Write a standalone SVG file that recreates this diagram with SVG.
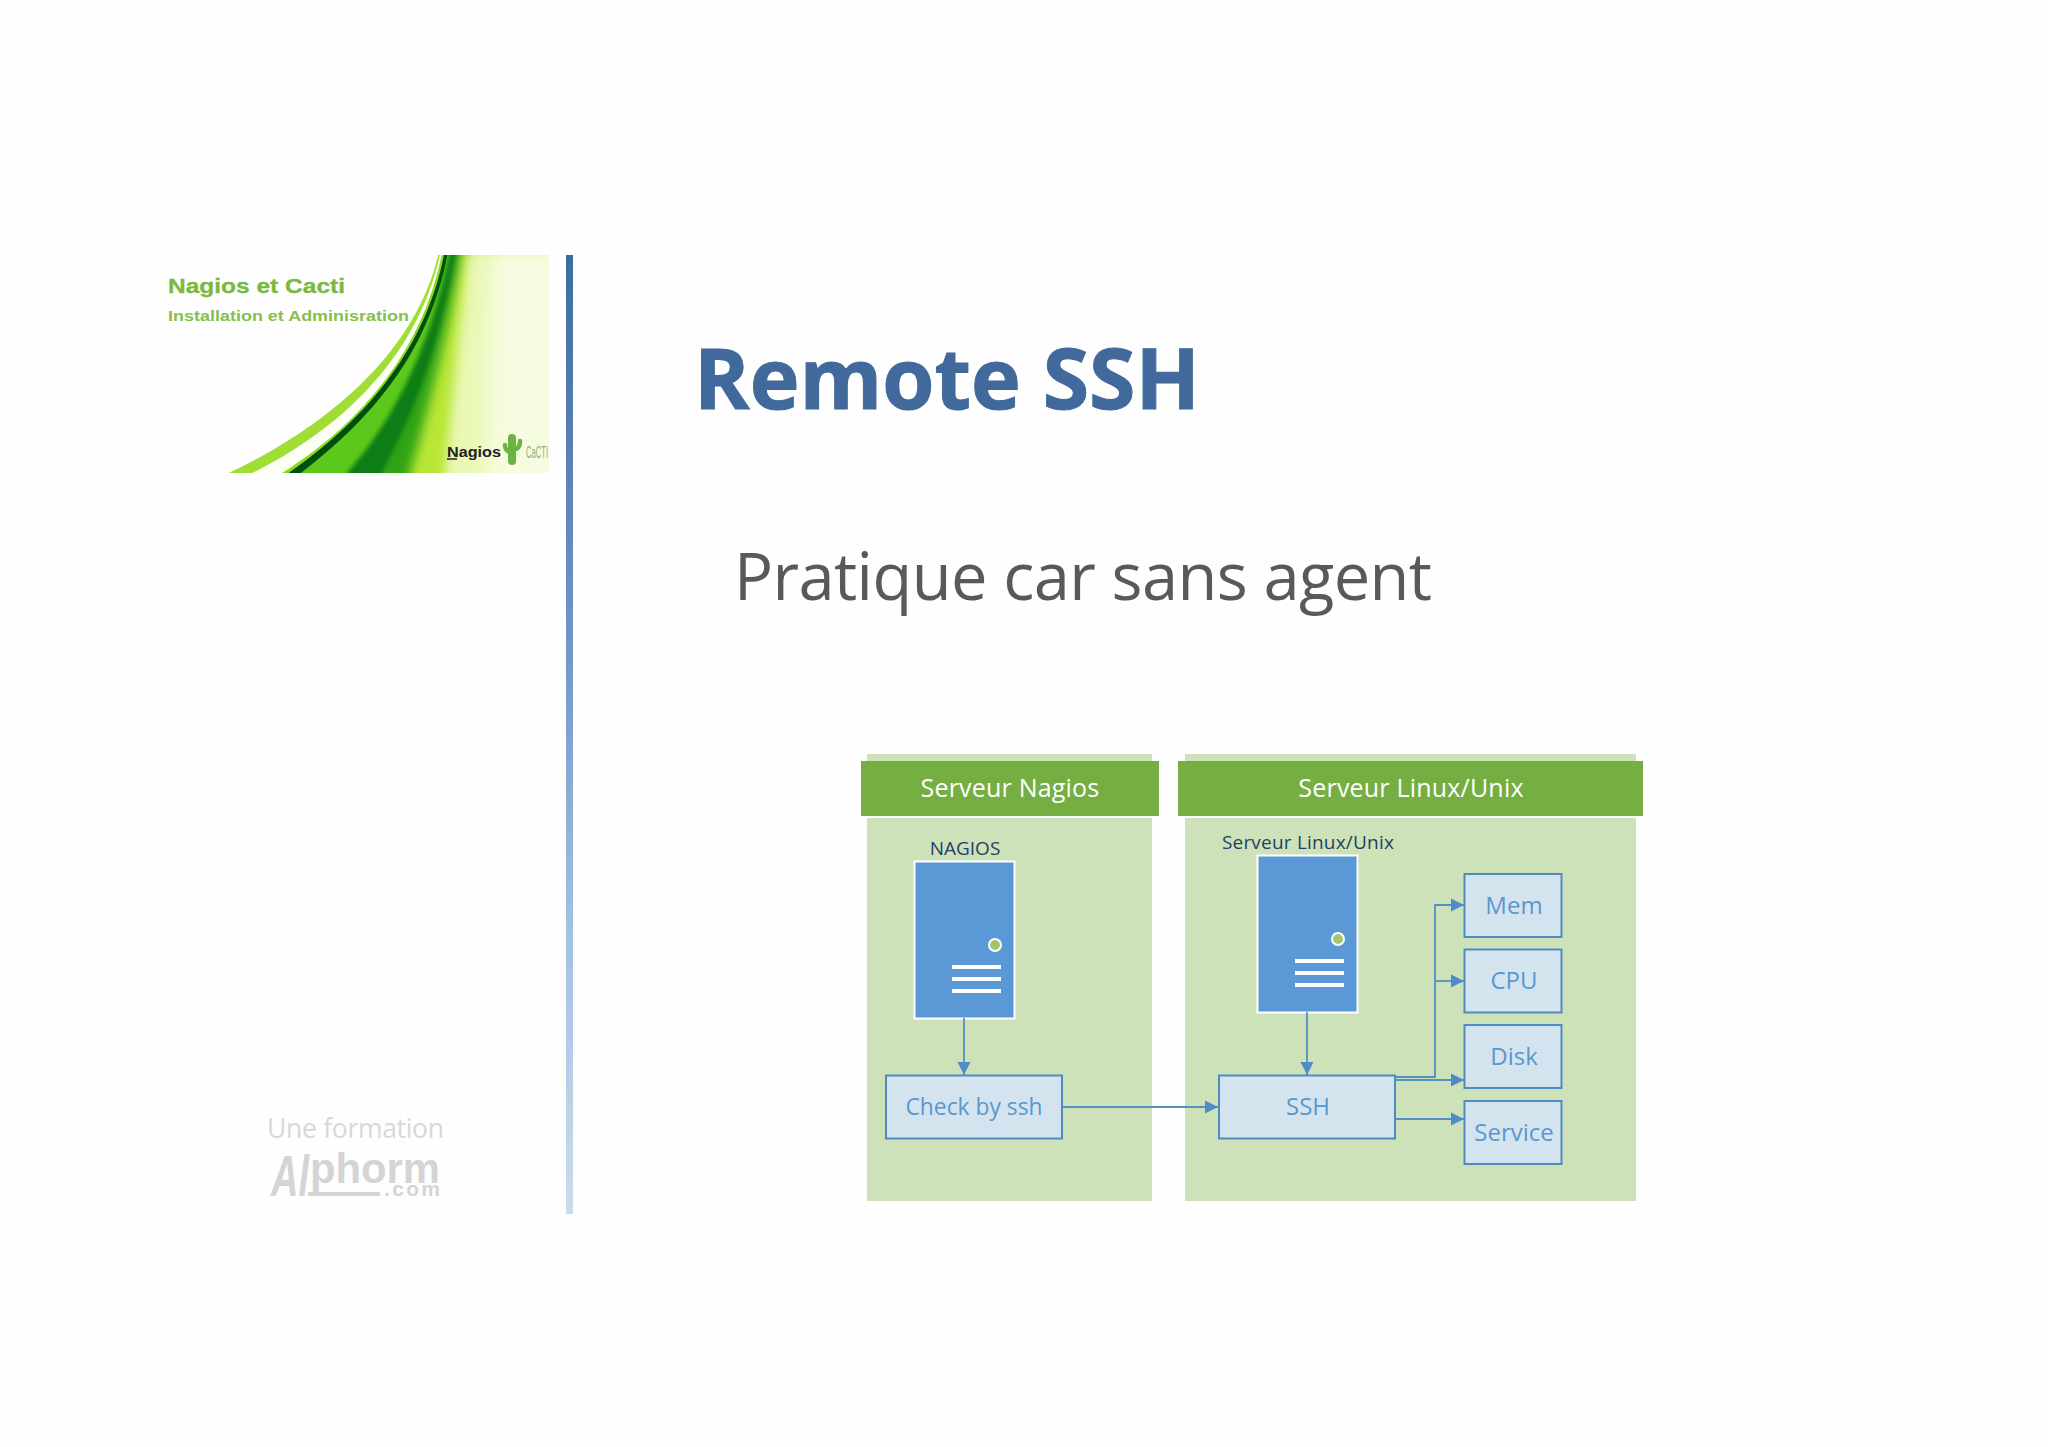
<svg xmlns="http://www.w3.org/2000/svg" width="2048" height="1447" viewBox="0 0 2048 1447">
<style>
.sans{font-family:"Open Sans","Noto Sans","Liberation Sans",sans-serif}
.panel{fill:#cde2b9}
.hdr{fill:#75ae42}
.hdrt{fill:#fff;font-size:25px;text-anchor:middle;letter-spacing:.2px}
.lbl{fill:#1f3f66;font-size:19px;text-anchor:middle}
.srv{fill:#5b98d6;stroke:#fff;stroke-width:2}
.led{fill:#a2c66f;stroke:#fff;stroke-width:2}
.bar{fill:#fff}
.box{fill:#d3e4ef;stroke:#4f8bbf;stroke-width:2}
.boxt{fill:#5a97cf;font-size:24px;text-anchor:middle}
.c{fill:none;stroke:#5590c4;stroke-width:1.8}
</style>
<defs>
<marker id="a" markerUnits="userSpaceOnUse" markerWidth="14" markerHeight="14" refX="13" refY="7" orient="auto"><path d="M0,0.500L13,7L0,13.500Z" fill="#4f8bc4"/></marker>
<linearGradient id="barg" x1="0" y1="0" x2="0" y2="1"><stop offset="0" stop-color="#3f6c9f"/><stop offset=".4" stop-color="#6f96c6"/><stop offset=".7" stop-color="#a3c0e0"/><stop offset="1" stop-color="#c9dcec"/></linearGradient>
<clipPath id="lc"><rect x="228" y="255" width="321" height="218"/></clipPath>
<filter id="s1" x="-10%" y="-10%" width="120%" height="120%"><feGaussianBlur stdDeviation="1.500"/></filter>
<filter id="s2" x="-10%" y="-10%" width="120%" height="120%"><feGaussianBlur stdDeviation="6"/></filter>
<filter id="s3" x="-20%" y="-10%" width="140%" height="120%"><feGaussianBlur stdDeviation="16"/></filter>
<filter id="s4" x="-30%" y="-10%" width="160%" height="120%"><feGaussianBlur stdDeviation="30"/></filter>
</defs>
<rect width="2048" height="1447" fill="#fefefe"/>

<g id="logo">
<g clip-path="url(#lc)">
<g transform="translate(140 240) scale(.3333)">
<path filter="url(#s1)" d="M265,700C540,570 830,350 898,30H1320V780H265Z" fill="#a0de34"/>
<path filter="url(#s1)" d="M335,700C590,575 838,355 903,30H1320V780H335Z" fill="#fdfff4"/>
<path filter="url(#s1)" d="M425,700C650,560 850,340 908,30H1320V780H425Z" fill="#8ad826"/>
<path filter="url(#s1)" d="M445,700C660,550 858,340 915,30H1320V780H445Z" fill="#06500f"/>
<path filter="url(#s1)" d="M482,700C690,540 870,340 925,30H1320V780H482Z" fill="#5cc81e"/>
<path filter="url(#s2)" d="M620,700C745,560 870,340 930,30H1320V780H620Z" fill="#0c7d12"/>
<path filter="url(#s2)" d="M725,700C800,560 900,340 955,30H1320V780H725Z" fill="#2fa318"/>
<path filter="url(#s3)" d="M810,700C850,560 910,340 968,30H1320V780H810Z" fill="#b8e636"/>
<path filter="url(#s3)" d="M915,700C930,560 950,340 985,30H1320V780H915Z" fill="#e9f8b4"/>
<path filter="url(#s4)" d="M1040,700C1040,500 1040,300 1060,30H1320V780H1040Z" fill="#f6fce0"/>
</g>
</g>
<text x="168" y="293" font-family="Liberation Sans,sans-serif" font-weight="700" font-size="20.500" fill="#7cb83e" stroke="#7cb83e" stroke-width=".3" textLength="177" lengthAdjust="spacingAndGlyphs">Nagios et Cacti</text>
<text x="168" y="321" font-family="Liberation Sans,sans-serif" font-weight="700" font-size="15" fill="#86bf4e" textLength="241" lengthAdjust="spacingAndGlyphs">Installation et Adminisration</text>
<text x="447" y="457" font-family="Liberation Sans,sans-serif" font-weight="700" font-size="14" fill="#222" textLength="54" lengthAdjust="spacingAndGlyphs">Nagios</text>
<path d="M447,459H457" stroke="#222" stroke-width="1.500"/>
<g fill="none" stroke="#6ab53f" stroke-linecap="round">
<path d="M512,438V461" stroke-width="8"/>
<path d="M505,445C505,450 507,452 512,453M520,441C520,447 518,449 512,450" stroke-width="4.500"/>
</g>
<text x="526" y="458" font-family="Liberation Sans,sans-serif" font-size="17" fill="#8ea87a" textLength="22" lengthAdjust="spacingAndGlyphs">CaCTI</text>
</g>

<rect id="divider" x="566" y="255" width="7" height="959" fill="url(#barg)"/>

<g id="alphorm" fill="#d4d4d4">
<text class="sans" x="267" y="1138" font-size="26.500" textLength="177" fill="#d8d8d8">Une formation</text>
<text x="271" y="1196" font-family="Liberation Sans,sans-serif" font-weight="700" font-style="italic" font-size="58" textLength="38" lengthAdjust="spacingAndGlyphs">Al</text>
<text x="310" y="1183" font-family="Liberation Sans,sans-serif" font-weight="700" font-size="42" textLength="130" lengthAdjust="spacingAndGlyphs">phorm</text>
<text x="384" y="1196" font-family="Liberation Sans,sans-serif" font-weight="700" font-size="21" textLength="56" lengthAdjust="spacing">.com</text>
<rect x="308" y="1192" width="72" height="4"/>
</g>

<text id="title" class="sans" x="694" y="409" font-size="85" font-weight="700" fill="#41699b" stroke="#41699b" stroke-width="1" textLength="506" lengthAdjust="spacingAndGlyphs">Remote SSH</text>
<text id="subtitle" class="sans" x="734" y="600" font-size="65" fill="#58595b" textLength="698" lengthAdjust="spacing">Pratique car sans agent</text>

<g transform="translate(0 1)">
<g id="panel-nagios">
<rect class="panel" x="867" y="753" width="285" height="447"/>
<rect x="860" y="760" width="299" height="57" fill="#fff"/>
<rect class="hdr" x="861" y="760" width="298" height="55"/>
<text class="sans hdrt" x="1010" y="796">Serveur Nagios</text>
</g>
<g id="panel-linux">
<rect class="panel" x="1185" y="753" width="451" height="447"/>
<rect x="1178" y="760" width="465" height="57" fill="#fff"/>
<rect class="hdr" x="1178" y="760" width="465" height="55"/>
<text class="sans hdrt" x="1411" y="796">Serveur Linux/Unix</text>
</g>

<g id="server-nagios">
<text class="sans lbl" x="965" y="854">NAGIOS</text>
<rect class="srv" x="914.500" y="860.500" width="100" height="157"/>
<circle class="led" cx="995" cy="944" r="6"/>
<rect class="bar" x="952" y="964" width="49" height="4"/><rect class="bar" x="952" y="976" width="49" height="4"/><rect class="bar" x="952" y="988" width="49" height="4"/>
</g>
<g id="server-linux">
<text class="sans lbl" x="1308" y="848" letter-spacing=".2">Serveur Linux/Unix</text>
<rect class="srv" x="1257.500" y="854.500" width="100" height="157"/>
<circle class="led" cx="1338" cy="938" r="6"/>
<rect class="bar" x="1295" y="958" width="49" height="4"/><rect class="bar" x="1295" y="970" width="49" height="4"/><rect class="bar" x="1295" y="982" width="49" height="4"/>
</g>

<g id="node-check"><rect class="box" x="886" y="1074.500" width="176" height="63"/><text class="sans boxt" x="974" y="1114" textLength="137" lengthAdjust="spacingAndGlyphs">Check by ssh</text></g>
<g id="node-ssh"><rect class="box" x="1219" y="1074.500" width="176" height="63"/><text class="sans boxt" x="1308" y="1114">SSH</text></g>
<g id="node-mem"><rect class="box" x="1464.500" y="873" width="97" height="63"/><text class="sans boxt" x="1514" y="913">Mem</text></g>
<g id="node-cpu"><rect class="box" x="1464.500" y="948.500" width="97" height="63"/><text class="sans boxt" x="1514" y="988">CPU</text></g>
<g id="node-disk"><rect class="box" x="1464.500" y="1024" width="97" height="63"/><text class="sans boxt" x="1514" y="1064">Disk</text></g>
<g id="node-service"><rect class="box" x="1464.500" y="1100" width="97" height="63"/><text class="sans boxt" x="1514" y="1140">Service</text></g>

<g id="connectors">
<path class="c" marker-end="url(#a)" d="M964,1017V1074"/>
<path class="c" marker-end="url(#a)" d="M1307,1011V1074"/>
<path class="c" marker-end="url(#a)" d="M1062,1106H1218"/>
<path class="c" marker-end="url(#a)" d="M1395,1076H1435V904H1464"/>
<path class="c" marker-end="url(#a)" d="M1435,980H1464"/>
<path class="c" marker-end="url(#a)" d="M1395,1079H1464"/>
<path class="c" marker-end="url(#a)" d="M1395,1118H1464"/>
</g>
</g>
</svg>
